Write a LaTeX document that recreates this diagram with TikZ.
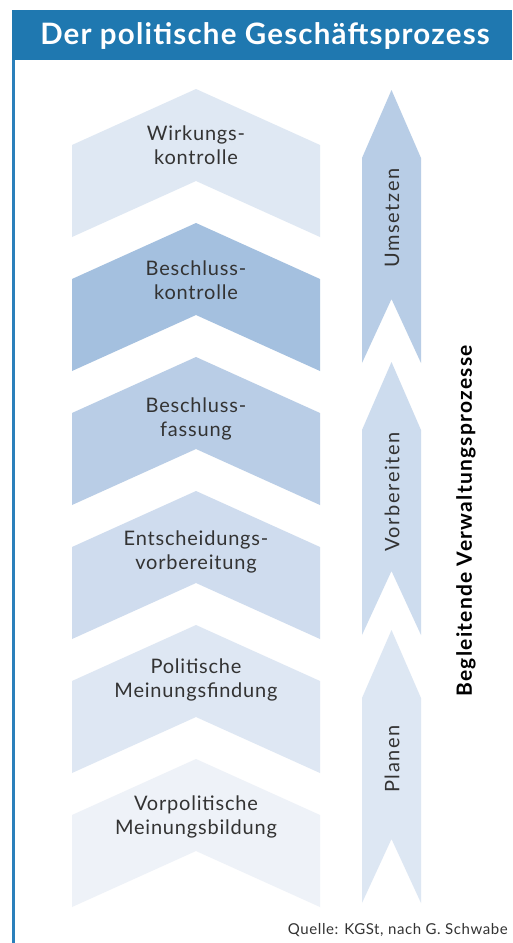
\documentclass[tikz,border=0pt]{standalone}
\usepackage{fontspec}
\setmainfont{Lato}
\setsansfont{Lato}
\newfontfamily\widefont[LetterSpace=4]{Lato}
\newfontfamily\widerfont[LetterSpace=8]{Lato}
\newfontfamily\sidefont[LetterSpace=6]{Lato}
\begin{document}
\begin{tikzpicture}[x=1pt,y=-1pt,
  label/.style={font=\widefont\fontsize{20}{24}\selectfont, text=black!80, align=center, inner sep=0pt},
  vlabel/.style={font=\widerfont\fontsize{20}{22}\selectfont, text=black!80, rotate=90, inner sep=0pt}]
\definecolor{frameblue}{HTML}{1F78B0}
\definecolor{edgeblue}{HTML}{2A80BB}
\definecolor{cA}{HTML}{DFE8F3}
\definecolor{cB}{HTML}{A4C0DF}
\definecolor{cC}{HTML}{B9CDE6}
\definecolor{cD}{HTML}{CFDCEE}
\definecolor{cE}{HTML}{DEE7F3}
\definecolor{cF}{HTML}{EEF2F8}
\definecolor{aU}{HTML}{B8CDE6}
\definecolor{aV}{HTML}{CDDCEE}
\definecolor{aP}{HTML}{DDE7F3}
\useasboundingbox (0,0) rectangle (512,943);
\fill[white] (0,0) rectangle (512,943);
% frame: title bar and left rule
\fill[frameblue] (12,10) rectangle (512,60);
\fill[edgeblue] (12,60) rectangle (15,943);
\node[font=\widefont\fontsize{29.5}{33}\selectfont\bfseries, text=white, inner sep=0pt] (title) at (265,36) {Der politische Geschäftsprozess};
% chevrons: #1 peak y, #2 colour
\newcommand{\chev}[2]{\fill[#2] (72,#1+56) -- (196,#1) -- (320,#1+56) -- (320,#1+148) -- (196,#1+92) -- (72,#1+148) -- cycle;}
\chev{89}{cA}
\chev{223}{cB}
\chev{357}{cC}
\chev{491}{cD}
\chev{625}{cE}
\chev{759}{cF}
\node[label] (s1) at (196,145) {Wirkungs-\\kontrolle};
\node[label] (s2) at (196,280) {Beschluss-\\kontrolle};
\node[label] (s3) at (196,419) {Beschluss-\\fassung};
\node[label] (s4) at (196,552) {Entscheidungs-\\vorbereitung};
\node[label] (s5) at (196,680) {Politische\\Meinungsfindung};
\node[label] (s6) at (196,817) {Vorpolitische\\Meinungsbildung};
% phase arrows: #1 tip y, #2 colour
\newcommand{\phasearrow}[2]{\fill[#2] (391.5,#1) -- (421,#1+68) -- (421,#1+273) -- (391.5,#1+209) -- (362,#1+273) -- (362,#1+68) -- cycle;}
\phasearrow{90}{aU}
\phasearrow{362}{aV}
\phasearrow{630}{aP}
\node[vlabel] (p1) at (392,218) {Umsetzen};
\node[vlabel] (p2) at (392,492) {Vorbereiten};
\node[vlabel] (p3) at (392,759) {Planen};
\node[font=\sidefont\fontsize{21}{24}\selectfont\bfseries, rotate=90, inner sep=0pt] (side) at (466,521) {Begleitende Verwaltungsprozesse};
\node[font=\widefont\fontsize{15}{17}\selectfont, text=black!80, anchor=east, inner sep=0pt] (src) at (508,930) {Quelle: KGSt, nach G. Schwabe};
\end{tikzpicture}
\end{document}
